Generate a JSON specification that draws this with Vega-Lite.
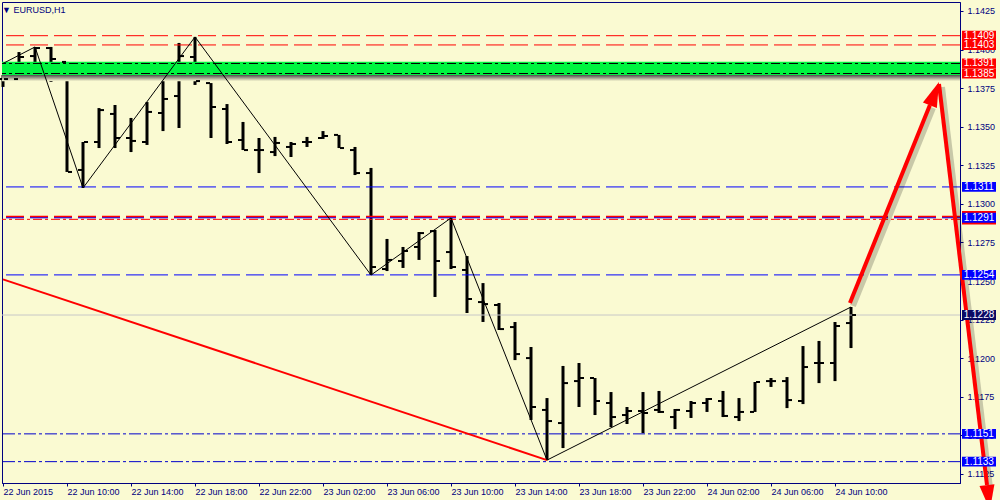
{
  "$schema": "https://vega.github.io/schema/vega-lite/v6.json",
  "width": 958,
  "height": 481,
  "autosize": "none",
  "padding": {"left": 2, "top": 2, "right": 40, "bottom": 17},
  "background": "#FAFAD2",
  "title": {"text": "▼ EURUSD,H1", "anchor": "start", "orient": "top", "offset": -13, "dx": 4, "fontSize": 9, "fontWeight": "normal", "color": "#000080", "font": "Liberation Sans"},
  "config": {
    "view": {"stroke": "#000080", "strokeWidth": 1, "fill": "#FAFAD2"},
    "font": "Liberation Sans",
    "axis": {"grid": false, "labelFont": "Liberation Sans", "labelFontSize": 9, "labelColor": "#000080", "tickColor": "#000080", "domainColor": "#000080", "tickSize": 3}
  },
  "datasets": {
    "bars": [
      {"time":"2015-06-22T06:00:00Z","open":1.13809,"high":1.13835,"low":1.13758,"close":1.13809},
      {"time":"2015-06-22T07:00:00Z","open":1.13809,"high":1.13984,"low":1.13809,"close":1.13952},
      {"time":"2015-06-22T08:00:00Z","open":1.13958,"high":1.14017,"low":1.139,"close":1.1401},
      {"time":"2015-06-22T09:00:00Z","open":1.1401,"high":1.14017,"low":1.1379,"close":1.13939},
      {"time":"2015-06-22T10:00:00Z","open":1.1392,"high":1.1392,"low":1.13207,"close":1.13207},
      {"time":"2015-06-22T11:00:00Z","open":1.1322,"high":1.13401,"low":1.13103,"close":1.13401},
      {"time":"2015-06-22T12:00:00Z","open":1.13401,"high":1.13621,"low":1.13362,"close":1.13608},
      {"time":"2015-06-22T13:00:00Z","open":1.13583,"high":1.13641,"low":1.13362,"close":1.13427},
      {"time":"2015-06-22T14:00:00Z","open":1.13427,"high":1.13557,"low":1.13336,"close":1.13408},
      {"time":"2015-06-22T15:00:00Z","open":1.13401,"high":1.1366,"low":1.13382,"close":1.13596},
      {"time":"2015-06-22T16:00:00Z","open":1.13589,"high":1.13803,"low":1.13472,"close":1.1368},
      {"time":"2015-06-22T17:00:00Z","open":1.13699,"high":1.14043,"low":1.13492,"close":1.13958},
      {"time":"2015-06-22T18:00:00Z","open":1.13952,"high":1.14082,"low":1.13771,"close":1.13796},
      {"time":"2015-06-22T19:00:00Z","open":1.13783,"high":1.13783,"low":1.13427,"close":1.13628},
      {"time":"2015-06-22T20:00:00Z","open":1.13615,"high":1.13647,"low":1.13388,"close":1.13401},
      {"time":"2015-06-22T21:00:00Z","open":1.13414,"high":1.13531,"low":1.13349,"close":1.13349},
      {"time":"2015-06-22T22:00:00Z","open":1.13349,"high":1.13427,"low":1.132,"close":1.13349},
      {"time":"2015-06-22T23:00:00Z","open":1.13336,"high":1.13434,"low":1.1331,"close":1.13395},
      {"time":"2015-06-23T00:00:00Z","open":1.13369,"high":1.13401,"low":1.13304,"close":1.13388},
      {"time":"2015-06-23T01:00:00Z","open":1.13401,"high":1.13434,"low":1.13369,"close":1.13401},
      {"time":"2015-06-23T02:00:00Z","open":1.13427,"high":1.13472,"low":1.13421,"close":1.1344},
      {"time":"2015-06-23T03:00:00Z","open":1.13447,"high":1.13447,"low":1.13362,"close":1.13362},
      {"time":"2015-06-23T04:00:00Z","open":1.13349,"high":1.13369,"low":1.13187,"close":1.132},
      {"time":"2015-06-23T05:00:00Z","open":1.132,"high":1.13233,"low":1.12539,"close":1.12591},
      {"time":"2015-06-23T06:00:00Z","open":1.12578,"high":1.12773,"low":1.12565,"close":1.12637},
      {"time":"2015-06-23T07:00:00Z","open":1.1263,"high":1.12721,"low":1.12585,"close":1.12695},
      {"time":"2015-06-23T08:00:00Z","open":1.12721,"high":1.12818,"low":1.12637,"close":1.12811},
      {"time":"2015-06-23T09:00:00Z","open":1.12824,"high":1.12831,"low":1.12397,"close":1.1263},
      {"time":"2015-06-23T10:00:00Z","open":1.12688,"high":1.12909,"low":1.12578,"close":1.12591},
      {"time":"2015-06-23T11:00:00Z","open":1.12572,"high":1.12662,"low":1.12293,"close":1.12384},
      {"time":"2015-06-23T12:00:00Z","open":1.12364,"high":1.12487,"low":1.12235,"close":1.12351},
      {"time":"2015-06-23T13:00:00Z","open":1.12345,"high":1.12358,"low":1.12183,"close":1.12189},
      {"time":"2015-06-23T14:00:00Z","open":1.12202,"high":1.12235,"low":1.11988,"close":1.12027},
      {"time":"2015-06-23T15:00:00Z","open":1.12001,"high":1.12073,"low":1.116,"close":1.11684},
      {"time":"2015-06-23T16:00:00Z","open":1.11665,"high":1.11742,"low":1.1134,"close":1.11593},
      {"time":"2015-06-23T17:00:00Z","open":1.1158,"high":1.1195,"low":1.11418,"close":1.11839},
      {"time":"2015-06-23T18:00:00Z","open":1.11852,"high":1.11969,"low":1.11684,"close":1.11872},
      {"time":"2015-06-23T19:00:00Z","open":1.11872,"high":1.11872,"low":1.11632,"close":1.11723},
      {"time":"2015-06-23T20:00:00Z","open":1.1171,"high":1.11781,"low":1.11554,"close":1.11619},
      {"time":"2015-06-23T21:00:00Z","open":1.11632,"high":1.11684,"low":1.11574,"close":1.11658},
      {"time":"2015-06-23T22:00:00Z","open":1.11658,"high":1.11781,"low":1.11515,"close":1.11645},
      {"time":"2015-06-23T23:00:00Z","open":1.11665,"high":1.11788,"low":1.11645,"close":1.11652},
      {"time":"2015-06-24T00:00:00Z","open":1.11619,"high":1.11671,"low":1.11541,"close":1.11665},
      {"time":"2015-06-24T01:00:00Z","open":1.11658,"high":1.11723,"low":1.11613,"close":1.1171},
      {"time":"2015-06-24T02:00:00Z","open":1.1171,"high":1.11742,"low":1.11652,"close":1.11736},
      {"time":"2015-06-24T03:00:00Z","open":1.11723,"high":1.11788,"low":1.11619,"close":1.11626},
      {"time":"2015-06-24T04:00:00Z","open":1.11619,"high":1.11742,"low":1.11593,"close":1.11652},
      {"time":"2015-06-24T05:00:00Z","open":1.11652,"high":1.11846,"low":1.11652,"close":1.11846},
      {"time":"2015-06-24T06:00:00Z","open":1.11852,"high":1.11872,"low":1.11814,"close":1.11852},
      {"time":"2015-06-24T07:00:00Z","open":1.11852,"high":1.11878,"low":1.11677,"close":1.11729},
      {"time":"2015-06-24T08:00:00Z","open":1.11723,"high":1.12079,"low":1.11703,"close":1.11943},
      {"time":"2015-06-24T09:00:00Z","open":1.11969,"high":1.12112,"low":1.11839,"close":1.11969},
      {"time":"2015-06-24T10:00:00Z","open":1.11969,"high":1.12235,"low":1.11852,"close":1.12209},
      {"time":"2015-06-24T11:00:00Z","open":1.12228,"high":1.12332,"low":1.12066,"close":1.1228}
    ],
    "levels": [
      {"price":1.1409,"kind":"resistance"},
      {"price":1.1403,"kind":"resistance"},
      {"price":1.1391,"kind":"zone"},
      {"price":1.13845,"kind":"zone"},
      {"price":1.1311,"kind":"level"},
      {"price":1.12917,"kind":"pivot"},
      {"price":1.1291,"kind":"level"},
      {"price":1.129,"kind":"pivot_alt"},
      {"price":1.1254,"kind":"level"},
      {"price":1.1228,"kind":"bid"},
      {"price":1.1151,"kind":"support"},
      {"price":1.1133,"kind":"support"}
    ],
    "zone": [{"top":1.13921,"bottom":1.13835,"shadow":1.13795}],
    "zigzag": [
      {"time":"2015-06-22T06:00:00Z","price":1.1391},
      {"time":"2015-06-22T08:00:00Z","price":1.14017},
      {"time":"2015-06-22T11:00:00Z","price":1.13103},
      {"time":"2015-06-22T18:00:00Z","price":1.14082},
      {"time":"2015-06-23T05:00:00Z","price":1.12539},
      {"time":"2015-06-23T10:00:00Z","price":1.12909},
      {"time":"2015-06-23T16:00:00Z","price":1.1134},
      {"time":"2015-06-24T11:00:00Z","price":1.12332}
    ],
    "trend": [
      {"time":"2015-06-22T06:00:00Z","price":1.12511},
      {"time":"2015-06-23T16:00:00Z","price":1.1134}
    ],
    "arrowUp": [
      {"time":"2015-06-24T10:56:00Z","price":1.12358},
      {"time":"2015-06-24T15:56:00Z","price":1.13641}
    ],
    "arrowUpHead": [{"time":"2015-06-24T16:30:00Z","price":1.1379}],
    "arrowDown": [
      {"time":"2015-06-24T16:30:00Z","price":1.13777},
      {"time":"2015-06-24T19:30:00Z","price":1.11179}
    ],
    "arrowDownHead": [{"time":"2015-06-24T19:41:00Z","price":1.11017}],
    "tags": [
      {"price":1.1409,"label":"1.1409","kind":"resistance"},
      {"price":1.1403,"label":"1.1403","kind":"resistance"},
      {"price":1.1391,"label":"1.1391","kind":"resistance"},
      {"price":1.13845,"label":"1.1385","kind":"resistance"},
      {"price":1.1311,"label":"1.1311","kind":"level"},
      {"price":1.1291,"label":"1.1291","kind":"pivot"},
      {"price":1.1254,"label":"1.1254","kind":"level"},
      {"price":1.1228,"label":"1.1228","kind":"bid"},
      {"price":1.1151,"label":"1.1151","kind":"level"},
      {"price":1.1133,"label":"1.1133","kind":"level"}
    ]
  },
  "layer": [
    {
      "data": {"name": "bars"},
      "mark": {"type": "rule", "color": "#000000", "strokeWidth": 3},
      "encoding": {
        "x": {"field": "time", "type": "temporal", "title": null,
              "scale": {"type": "utc", "domain": [1434952575000, 1435168125000]},
              "axis": {"values": [1434952800000,1434967200000,1434981600000,1434996000000,1435010400000,1435024800000,1435039200000,1435053600000,1435068000000,1435082400000,1435096800000,1435111200000,1435125600000,1435140000000],
                       "labelExpr": "datum.index == 0 ? '22 Jun 2015' : utcFormat(datum.value, '%d %b %H:%M')",
                       "labelAlign": "left", "labelBaseline": "top", "labelPadding": 1, "labelOverlap": false, "labelFlush": false, "orient": "bottom"}},
        "y": {"field": "low", "type": "quantitative", "title": null,
              "scale": {"domain": [1.111916, 1.143083], "nice": false, "zero": false},
              "axis": {"orient": "right", "values": [1.1125,1.115,1.1175,1.12,1.1225,1.125,1.1275,1.13,1.1325,1.135,1.1375,1.14,1.1425],
                       "format": ".4f", "labelPadding": 4, "labelAlign": "left", "labelBaseline": "middle", "labelOverlap": false, "labelFlush": false}},
        "y2": {"field": "high"}
      }
    },
    {
      "data": {"name": "zone"},
      "mark": {"type": "rect", "color": {"gradient": "linear", "x1": 0, "y1": 0, "x2": 0, "y2": 1, "stops": [{"offset": 0, "color": "#505050"}, {"offset": 1, "color": "#FAFAD2"}]}},
      "encoding": {
        "y": {"field": "bottom", "type": "quantitative", "title": null},
        "y2": {"field": "shadow"}
      }
    },
    {
      "data": {"name": "zone"},
      "mark": {"type": "rect", "color": "#00F540"},
      "encoding": {
        "y": {"field": "top", "type": "quantitative", "title": null},
        "y2": {"field": "bottom"}
      }
    },
    {
      "data": {"name": "levels"},
      "transform": [{"filter": "datum.kind == 'bid'"}],
      "mark": {"type": "rule", "color": "#C8C8C8", "strokeWidth": 1},
      "encoding": {"y": {"field": "price", "type": "quantitative", "title": null}}
    },
    {
      "data": {"name": "levels"},
      "transform": [{"filter": "datum.kind == 'resistance'"}],
      "mark": {"type": "rule", "color": "#FF0000", "strokeWidth": 1, "strokeDash": [18, 6]},
      "encoding": {"y": {"field": "price", "type": "quantitative", "title": null}}
    },
    {
      "data": {"name": "levels"},
      "transform": [{"filter": "datum.kind == 'zone'"}],
      "mark": {"type": "rule", "color": "#000000", "strokeWidth": 1, "strokeDash": [9, 3, 3, 3]},
      "encoding": {"y": {"field": "price", "type": "quantitative", "title": null}}
    },
    {
      "data": {"name": "levels"},
      "transform": [{"filter": "datum.kind == 'pivot'"}],
      "mark": {"type": "rule", "color": "#FF0000", "strokeWidth": 2, "strokeDash": [18, 6]},
      "encoding": {"y": {"field": "price", "type": "quantitative", "title": null}}
    },
    {
      "data": {"name": "levels"},
      "transform": [{"filter": "datum.kind == 'pivot_alt'"}],
      "mark": {"type": "rule", "color": "#FF0000", "strokeWidth": 1, "strokeDash": [9, 3, 3, 3]},
      "encoding": {"y": {"field": "price", "type": "quantitative", "title": null}}
    },
    {
      "data": {"name": "levels"},
      "transform": [{"filter": "datum.kind == 'level'"}],
      "mark": {"type": "rule", "color": "#0000FF", "strokeWidth": 1, "strokeDash": [18, 6]},
      "encoding": {"y": {"field": "price", "type": "quantitative", "title": null}}
    },
    {
      "data": {"name": "levels"},
      "transform": [{"filter": "datum.kind == 'support'"}],
      "mark": {"type": "rule", "color": "#0000CC", "strokeWidth": 1, "strokeDash": [12, 3, 3, 3]},
      "encoding": {"y": {"field": "price", "type": "quantitative", "title": null}}
    },
    {
      "data": {"name": "trend"},
      "mark": {"type": "line", "color": "#FF0000", "strokeWidth": 2},
      "encoding": {
        "x": {"field": "time", "type": "temporal", "title": null},
        "y": {"field": "price", "type": "quantitative", "title": null}
      }
    },
    {
      "data": {"name": "zigzag"},
      "mark": {"type": "line", "color": "#000000", "strokeWidth": 1},
      "encoding": {
        "x": {"field": "time", "type": "temporal", "title": null},
        "y": {"field": "price", "type": "quantitative", "title": null}
      }
    },
    {
      "data": {"name": "bars"},
      "mark": {"type": "tick", "orient": "horizontal", "size": 4, "thickness": 2, "xOffset": -3, "color": "#000000", "opacity": 1},
      "encoding": {
        "x": {"field": "time", "type": "temporal", "title": null},
        "y": {"field": "open", "type": "quantitative", "title": null}
      }
    },
    {
      "data": {"name": "bars"},
      "mark": {"type": "tick", "orient": "horizontal", "size": 4, "thickness": 2, "xOffset": 3, "color": "#000000", "opacity": 1},
      "encoding": {
        "x": {"field": "time", "type": "temporal", "title": null},
        "y": {"field": "close", "type": "quantitative", "title": null}
      }
    },
    {
      "data": {"name": "arrowUp"},
      "mark": {"type": "line", "color": "#000000", "opacity": 0.2, "strokeWidth": 6, "xOffset": 3, "yOffset": 3, "clip": false},
      "encoding": {
        "x": {"field": "time", "type": "temporal", "title": null},
        "y": {"field": "price", "type": "quantitative", "title": null}
      }
    },
    {
      "data": {"name": "arrowDown"},
      "mark": {"type": "line", "color": "#000000", "opacity": 0.2, "strokeWidth": 6, "xOffset": 3, "yOffset": 3, "clip": false},
      "encoding": {
        "x": {"field": "time", "type": "temporal", "title": null},
        "y": {"field": "price", "type": "quantitative", "title": null}
      }
    },
    {
      "data": {"name": "arrowUp"},
      "mark": {"type": "line", "color": "#FF0000", "strokeWidth": 4, "strokeCap": "butt", "clip": false},
      "encoding": {
        "x": {"field": "time", "type": "temporal", "title": null},
        "y": {"field": "price", "type": "quantitative", "title": null}
      }
    },
    {
      "data": {"name": "arrowDown"},
      "mark": {"type": "line", "color": "#FF0000", "strokeWidth": 4, "strokeCap": "butt", "clip": false},
      "encoding": {
        "x": {"field": "time", "type": "temporal", "title": null},
        "y": {"field": "price", "type": "quantitative", "title": null}
      }
    },
    {
      "data": {"name": "arrowUpHead"},
      "mark": {"type": "point", "shape": "M0,0L0.3,1L-0.3,1Z", "size": 2500, "angle": 21.4, "filled": true, "color": "#FF0000", "opacity": 1, "strokeWidth": 0, "clip": false},
      "encoding": {
        "x": {"field": "time", "type": "temporal", "title": null},
        "y": {"field": "price", "type": "quantitative", "title": null}
      }
    },
    {
      "data": {"name": "arrowDownHead"},
      "mark": {"type": "point", "shape": "M0,0L0.3,1L-0.3,1Z", "size": 2500, "angle": 173.2, "filled": true, "color": "#FF0000", "opacity": 1, "strokeWidth": 0, "clip": false},
      "encoding": {
        "x": {"field": "time", "type": "temporal", "title": null},
        "y": {"field": "price", "type": "quantitative", "title": null}
      }
    },
    {
      "data": {"name": "tags"},
      "transform": [{"filter": "datum.kind == 'pivot'"}],
      "mark": {"type": "point", "shape": "M-1,-0.4L1,-0.4L1,0.4L-1,0.4Z", "size": 1156, "filled": true, "color": "#FF0000", "opacity": 1, "strokeWidth": 0, "clip": false},
      "encoding": {
        "x": {"datum": 1435172400000, "type": "temporal", "title": null},
        "y": {"field": "price", "type": "quantitative", "title": null}
      }
    },
    {
      "data": {"name": "tags"},
      "mark": {"type": "point", "shape": "M-1,-0.29L1,-0.29L1,0.29L-1,0.29Z", "size": 1156, "filled": true, "opacity": 1, "strokeWidth": 0, "clip": false},
      "encoding": {
        "x": {"datum": 1435172400000, "type": "temporal", "title": null},
        "y": {"field": "price", "type": "quantitative", "title": null},
        "color": {"field": "kind", "type": "nominal", "legend": null, "scale": {"domain": ["resistance", "level", "pivot", "bid"], "range": ["#FF0000", "#0000FF", "#0000FF", "#0A0A64"]}}
      }
    },
    {
      "data": {"name": "tags"},
      "mark": {"type": "text", "color": "#FFFFFF", "fontSize": 10, "font": "Liberation Sans", "align": "center", "baseline": "middle", "clip": false},
      "encoding": {
        "x": {"datum": 1435172400000, "type": "temporal", "title": null},
        "y": {"field": "price", "type": "quantitative", "title": null},
        "text": {"field": "label"}
      }
    }
  ]
}
